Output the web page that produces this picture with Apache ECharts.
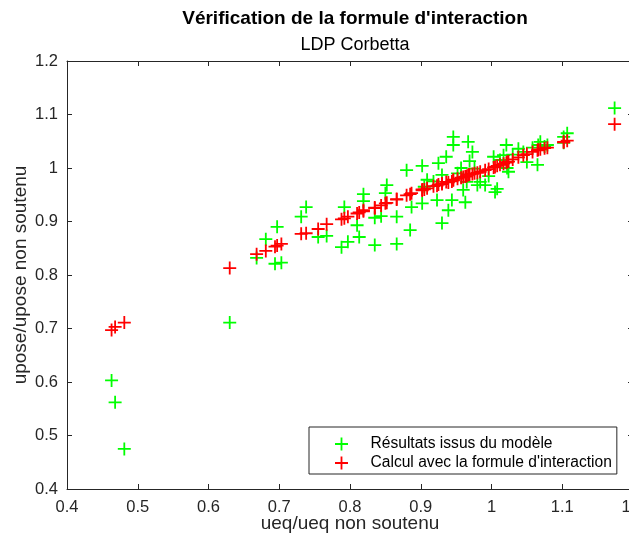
<!DOCTYPE html>
<html>
<head>
<meta charset="utf-8">
<script src="https://cdn.jsdelivr.net/npm/echarts@6/dist/echarts.min.js"></script>
<style>
html,body{margin:0;padding:0;background:#fff;overflow:hidden;width:629px;height:544px;}
#c{width:660px;height:544px;}
</style>
</head>
<body>
<div id="c"></div>
<script>
// ueq/ueq non soutenu (shared x for both series)
const ueq = [0.463,0.468,0.481,0.630,0.668,0.681,0.697,0.694,0.703,0.731,
  0.738,0.755,0.767,0.792,0.788,0.797,0.819,0.819,0.810,0.813,
  0.835,0.844,0.850,0.852,0.835,0.866,0.885,0.866,0.880,0.887,
  0.902,0.902,0.909,0.923,0.930,0.944,0.939,0.925,0.930,0.946,
  0.946,0.936,0.957,0.960,0.963,0.967,0.973,0.969,0.965,0.980,
  0.984,0.991,1.005,1.008,1.003,1.021,1.017,1.038,1.022,1.024,
  1.050,1.065,1.069,1.066,1.079,1.102,1.107,1.102,1.174,
  0.905,0.918,0.952,0.976,0.996,1.012,1.030,1.045,1.058,1.075];
// Résultats issus du modèle
const modelY = [0.603,0.562,0.475,0.711,0.832,0.867,0.890,0.821,0.823,0.909,
  0.927,0.871,0.873,0.927,0.852,0.862,0.951,0.938,0.893,0.871,
  0.907,0.910,0.953,0.968,0.856,0.909,0.884,0.858,0.996,0.927,
  1.004,0.934,0.978,0.940,0.897,0.940,0.921,1.009,0.987,1.058,
  1.043,1.021,1.000,0.959,0.936,1.049,1.030,1.013,0.974,0.968,
  0.974,0.968,0.955,0.961,1.021,1.043,1.024,1.036,1.000,0.993,
  1.011,1.006,1.049,1.043,1.043,1.058,1.065,1.047,1.112,
  0.965,0.975,0.990,0.999,0.985,1.015,1.025,1.030,1.038,1.040];
// Calcul avec la formule d'interaction
const formulaY = [0.697,0.703,0.711,0.813,0.839,0.845,0.855,0.853,0.858,0.877,
  0.878,0.886,0.895,0.906,0.904,0.909,0.921,0.919,0.915,0.917,
  0.926,0.930,0.934,0.935,0.925,0.942,0.951,0.941,0.949,0.953,
  0.960,0.958,0.962,0.967,0.970,0.975,0.973,0.969,0.971,0.978,
  0.977,0.974,0.982,0.983,0.984,0.987,0.989,0.988,0.985,0.991,
  0.993,0.996,1.002,1.004,1.001,1.010,1.008,1.020,1.011,1.012,
  1.026,1.033,1.035,1.034,1.038,1.049,1.051,1.048,1.082,
  0.960,0.966,0.980,0.990,0.998,1.006,1.016,1.024,1.030,1.037];

const seriesNames = ["Résultats issus du modèle", "Calcul avec la formule d'interaction"];
const titleText = "Vérification de la formule d'interaction";
const subtitleText = "LDP Corbetta";
const xName = "ueq/ueq non soutenu";
const yName = "upose/upose non soutenu";

const plus = 'path://M5.6,0H7.4V5.6H13V7.4H7.4V13H5.6V7.4H0V5.6H5.6Z';
const font = '"Liberation Sans", Arial, Helvetica, sans-serif';
const axisCol = '#262626';

const modelData = ueq.map((x, i) => [x, modelY[i]]);
const formulaData = ueq.map((x, i) => [x, formulaY[i]]);

const chart = echarts.init(document.getElementById('c'), null, {renderer: 'canvas'});
const baseAxis = {
  min: 0.4, max: 1.2, interval: 0.1,
  axisLine: {show: true, lineStyle: {color: axisCol, width: 1}},
  axisTick: {show: true, inside: true, length: 5, lineStyle: {color: axisCol}},
  splitLine: {show: false},
};
const fmt = v => String(Math.round(v * 10) / 10);
chart.setOption({
  animation: false,
  textStyle: {fontFamily: font},
  title: {
    text: titleText,
    subtext: subtitleText,
    left: 350, top: 4, textAlign: 'center',
    itemGap: 8,
    textStyle: {fontFamily: font, fontSize: 19, fontWeight: 'bold', color: '#000'},
    subtextStyle: {fontFamily: font, fontSize: 18, color: '#000'}
  },
  grid: {left: 67, top: 61, width: 566, height: 428, outerBoundsMode: 'none', containLabel: false},
  xAxis: [
    Object.assign({}, baseAxis, {
      type: 'value', position: 'bottom',
      name: xName, nameLocation: 'middle', nameGap: 25, nameMoveOverlap: false,
      nameTextStyle: {fontFamily: font, fontSize: 19, color: axisCol},
      axisLabel: {fontFamily: font, fontSize: 16.5, color: axisCol, margin: 10, formatter: fmt}
    }),
    Object.assign({}, baseAxis, {
      type: 'value', position: 'top', axisLabel: {show: false}
    })
  ],
  yAxis: [
    Object.assign({}, baseAxis, {
      type: 'value', position: 'left',
      name: yName, nameLocation: 'middle', nameGap: 37, nameMoveOverlap: false,
      nameTextStyle: {fontFamily: font, fontSize: 19, color: axisCol},
      axisLabel: {fontFamily: font, fontSize: 16.5, color: axisCol, margin: 9, formatter: fmt}
    }),
    Object.assign({}, baseAxis, {
      type: 'value', position: 'right', axisLabel: {show: false}
    })
  ],
  legend: {
    orient: 'vertical',
    left: 309, top: 427,
    backgroundColor: '#fff',
    borderColor: axisCol, borderWidth: 1, borderRadius: 0,
    padding: [9, 5, 3, 26],
    itemWidth: 48, itemHeight: 13, itemGap: 3,
    symbolKeepAspect: true,
    textStyle: {fontFamily: font, fontSize: 15.6, color: '#000'},
    data: [
      {name: seriesNames[0], icon: plus, itemStyle: {color: '#00ff00'}},
      {name: seriesNames[1], icon: plus, itemStyle: {color: '#ff0000'}}
    ]
  },
  series: [
    {
      name: seriesNames[0], type: 'scatter', data: modelData,
      symbol: plus, symbolSize: 13,
      itemStyle: {color: '#00ff00', opacity: 1}
    },
    {
      name: seriesNames[1], type: 'scatter', data: formulaData,
      symbol: plus, symbolSize: 13,
      itemStyle: {color: '#ff0000', opacity: 1}
    }
  ]
});
</script>
</body>
</html>
